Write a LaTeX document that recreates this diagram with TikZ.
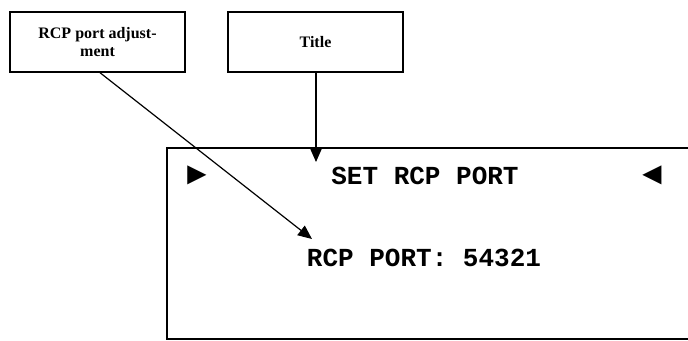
\documentclass[tikz,border=0pt]{standalone}
\usepackage{fontspec}
\setmainfont{Liberation Serif}
\newfontfamily\lcdfont{Liberation Mono}
\newfontfamily\symfont{Liberation Sans}
\usetikzlibrary{arrows.meta, positioning}

\begin{document}
\begin{tikzpicture}[
    x=1pt, y=-1pt,
    every node/.style={font=\bfseries},
    callout/.style={rectangle, draw, line width=1.4pt, minimum width=175pt,
                  minimum height=60pt, align=center, inner sep=2pt,
                  font=\fontsize{16}{18.5}\selectfont\bfseries},
    lcd/.style={font=\fontsize{26}{30}\selectfont\lcdfont\bfseries, inner sep=0pt},
    glyph/.style={font=\fontsize{32}{36}\selectfont\symfont, inner sep=0pt},
    arr/.style={-{Triangle[length=14pt, width=12pt]}, line width=1.2pt}
]
    \useasboundingbox (0,0) rectangle (688,340);
    \begin{scope}
        \clip (0,0) rectangle (688,340);
        \draw[line width=1.4pt] (167,148) rectangle (720,339);
    \end{scope}

    % callout boxes
    \node[callout] (adj) at (97.5,42) {RCP port adjust-\\ment};
    \node[callout] (ttl) at (315.5,42) {Title};

    % display contents
    \node[glyph] (lmark) at (197,175) {►};
    \node[glyph] (rmark) at (652,175) {◄};
    \node[lcd] (head) at (425,176) {SET RCP PORT};
    \node[lcd] (port) at (424,258) {RCP PORT: 54321};

    \coordinate (ttltip) at (316,162);
    \coordinate (porttip) at (312,239);

    \draw[arr] (adj.south -| 100,0) -- (porttip);
    \draw[arr] (ttl.south -| ttltip) -- (ttltip);
\end{tikzpicture}
\end{document}
